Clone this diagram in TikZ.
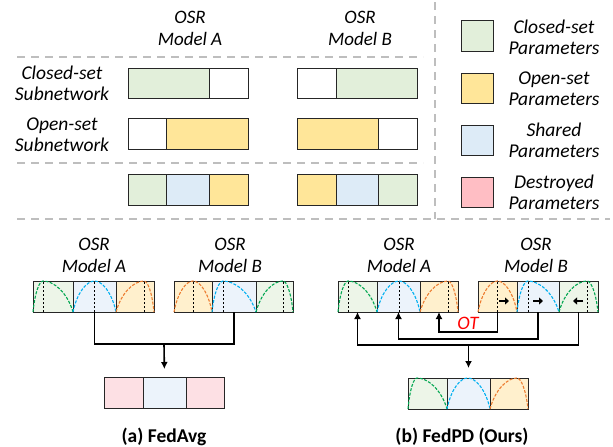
\documentclass[tikz,border=0pt]{standalone}
\usepackage{fontspec}
\setmainfont{Carlito}
\usetikzlibrary{arrows.meta, calc, positioning}

\definecolor{closedc}{RGB}{226,239,218}
\definecolor{openc}{RGB}{255,230,153}
\definecolor{sharedc}{RGB}{221,235,247}
\definecolor{destroyc}{RGB}{255,190,196}
\definecolor{closedl}{RGB}{237,245,232}
\definecolor{openl}{RGB}{255,240,205}
\definecolor{sharedl}{RGB}{236,243,251}
\definecolor{destroyl}{RGB}{253,224,228}
\definecolor{greenc}{RGB}{0,166,80}
\definecolor{bluec}{RGB}{0,176,240}
\definecolor{orangec}{RGB}{237,125,49}
\definecolor{sepc}{RGB}{190,190,190}

\tikzset{
    cellbox/.style ={draw=black!85, line width=1pt, inner sep=0pt, outer sep=0pt},
    modellabel/.style ={font=\fontsize{19}{22}\selectfont\itshape, align=center},
    sidelabel/.style ={font=\fontsize{19.5}{21}\selectfont\itshape, align=center},
    caption/.style ={font=\fontsize{19.5}{20}\selectfont\bfseries},
    sepline/.style ={draw=sepc, line width=1.5pt, dash pattern=on 8pt off 6pt},
    bumpline/.style ={line width=1.1pt, dash pattern=on 3pt off 1.5pt},
    peakline/.style ={black, line width=0.8pt, dash pattern=on 2.5pt off 1.5pt},
    link/.style ={draw=black, line width=1.6pt},
    fatarrow/.style ={line width=2.4pt, -{Triangle[length=4pt,width=7pt]}}
    }

% cell of a parameter bar: name, left, right, top, bottom, fill
\newcommand{\cell}[6]{\node[cellbox, fill=#6, minimum width={#3-#2},
    minimum height={#5-#4}] (#1) at ({(#2+#3)/2},{(#4+#5)/2}) {};}
% distribution curve in a cell: node, peak position, colour
\newcommand{\bump}[3]{%
    \draw[bumpline, #3] let \p1=(#1.south west), \p2=(#1.north east),
        \n1={\x1+#2*(\x2-\x1)} in
        (\p1) .. controls ({\x1+0.2*(\n1-\x1)},{\y1+0.65*(\y2-\y1)}) and ({\x1+0.65*(\n1-\x1)},\y2) .. (\n1,\y2)
        .. controls ({\n1+0.35*(\x2-\n1)},\y2) and ({\x2-0.2*(\x2-\n1)},{\y1+0.65*(\y2-\y1)}) .. (\x2,\y1);}
\newcommand{\bumpmark}[3]{%
    \bump{#1}{#2}{#3}
    \draw[peakline] let \p1=(#1.south west), \p2=(#1.north east),
        \n1={\x1+#2*(\x2-\x1)} in (\n1,\y1) -- (\n1,\y2);}

\begin{document}
\begin{tikzpicture}[x=1pt, y=-1pt]
    \useasboundingbox (0,0) rectangle (613,447);

    % separators
    \draw[sepline] (17,57) -- (423,57);
    \draw[sepline] (17,163) -- (423,163);
    \draw[sepline] (435,2) -- (435,219);
    \draw[sepline] (17,219) -- (610,219);

    % upper part
    \node[modellabel] (ta) at (190,28) {OSR\\Model A};
    \node[modellabel] (tb) at (360,28) {OSR\\Model B};
    \node[sidelabel] (lclosed) at (62,83) {Closed-set\\Subnetwork};
    \node[sidelabel] (lopen) at (62,135) {Open-set\\Subnetwork};

    \cell{ca1}{128}{209}{68}{98}{closedc}
    \cell{ca2}{209}{248}{68}{98}{white}
    \cell{cb1}{297}{336}{68}{98}{white}
    \cell{cb2}{336}{417}{68}{98}{closedc}

    \cell{oa1}{128}{166}{118}{149}{white}
    \cell{oa2}{166}{248}{118}{149}{openc}
    \cell{ob1}{297}{378}{118}{149}{openc}
    \cell{ob2}{378}{417}{118}{149}{white}

    \cell{sa1}{128}{166}{174}{205}{closedc}
    \cell{sa2}{166}{209}{174}{205}{sharedc}
    \cell{sa3}{209}{248}{174}{205}{openc}
    \cell{sb1}{297}{336}{174}{205}{openc}
    \cell{sb2}{336}{378}{174}{205}{sharedc}
    \cell{sb3}{378}{417}{174}{205}{closedc}

    % legend
    \cell{k1}{461}{493}{20}{51}{closedc}
    \cell{k2}{461}{493}{73}{103}{openc}
    \cell{k3}{461}{493}{125}{155}{sharedc}
    \cell{k4}{461}{493}{177}{207}{destroyc}
    \node[sidelabel] (lk1) at (554,37) {Closed-set\\Parameters};
    \node[sidelabel] (lk2) at (554,89) {Open-set\\Parameters};
    \node[sidelabel] (lk3) at (554,140) {Shared\\Parameters};
    \node[sidelabel] (lk4) at (554,192) {Destroyed\\Parameters};

    % (a) FedAvg
    \node[modellabel] (fta) at (94,255) {OSR\\Model A};
    \node[modellabel] (ftb) at (230,255) {OSR\\Model B};
    \cell{fa1}{33}{73}{281}{312}{closedl}
    \cell{fa2}{73}{116}{281}{312}{sharedl}
    \cell{fa3}{116}{154}{281}{312}{openl}
    \cell{fb1}{174}{212}{281}{312}{openl}
    \cell{fb2}{212}{256}{281}{312}{sharedl}
    \cell{fb3}{256}{293}{281}{312}{closedl}
    \bumpmark{fa1}{0.25}{greenc}
    \bumpmark{fa2}{0.5}{bluec}
    \bumpmark{fa3}{0.74}{orangec}
    \bumpmark{fb1}{0.5}{orangec}
    \bumpmark{fb2}{0.25}{bluec}
    \bumpmark{fb3}{0.73}{greenc}
    \cell{fr1}{104}{143}{377}{408}{destroyl}
    \cell{fr2}{143}{186}{377}{408}{sharedl}
    \cell{fr3}{186}{224}{377}{408}{destroyl}

    \coordinate (fjoin) at (164,344);
    \draw[link] (fa2.south) |- (fjoin) -| (fb2.south);
    \draw[link, -{Latex[length=7pt,width=7pt]}, shorten >=8pt] (fjoin) -- (fr2.north);
    \node[caption] (capa) at (164,437) {(a) FedAvg};

    % (b) FedPD
    \node[modellabel] (pta) at (399,255) {OSR\\Model A};
    \node[modellabel] (ptb) at (536,255) {OSR\\Model B};
    \cell{pa1}{338}{377}{281}{312}{closedl}
    \cell{pa2}{377}{420}{281}{312}{sharedl}
    \cell{pa3}{420}{458}{281}{312}{openl}
    \cell{pb1}{478}{517}{281}{312}{openl}
    \cell{pb2}{517}{559}{281}{312}{sharedl}
    \cell{pb3}{559}{598}{281}{312}{closedl}
    \bumpmark{pa1}{0.26}{greenc}
    \bumpmark{pa2}{0.51}{bluec}
    \bumpmark{pa3}{0.74}{orangec}
    \bumpmark{pb1}{0.5}{orangec}
    \bumpmark{pb2}{0.26}{bluec}
    \bumpmark{pb3}{0.72}{greenc}
    \draw[fatarrow] (499,301) -- (509,301);
    \draw[fatarrow] (533,301) -- (543,301);
    \draw[fatarrow] (583,301) -- (573,301);

    \coordinate (pj1) at (497.5,332);
    \coordinate (pj2) at (538,339);
    \coordinate (pj3) at (578.5,345);
    \draw[link, -{Latex[length=7pt,width=7pt]}] (pb1.south) -- (pj1) -| (pa3.south);
    \draw[link, -{Latex[length=7pt,width=7pt]}] (pb2.south) -- (pj2) -| (pa2.south);
    \draw[link, -{Latex[length=7pt,width=7pt]}] (pb3.south) -- (pj3) -| (pa1.south);
    \node[font=\fontsize{19}{20}\selectfont\itshape, text=red] (ot) at (468,323) {OT};

    \cell{pr1}{408}{447}{378}{409}{closedl}
    \cell{pr2}{447}{490}{378}{409}{sharedl}
    \cell{pr3}{490}{528}{378}{409}{openl}
    \bump{pr1}{0.23}{greenc}
    \bump{pr2}{0.48}{bluec}
    \bump{pr3}{0.71}{orangec}
    \coordinate (pjoin) at (pr2.north |- pj3);
    \draw[link, -{Latex[length=7pt,width=7pt]}, shorten >=10pt] (pjoin) -- (pr2.north);
    \node[caption] (capb) at (462,437) {(b) FedPD (Ours)};
\end{tikzpicture}
\end{document}
